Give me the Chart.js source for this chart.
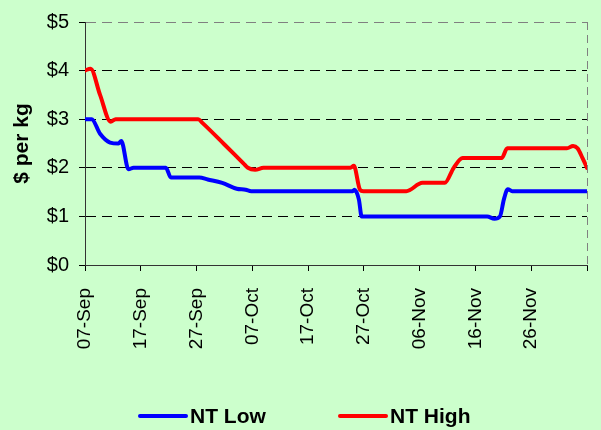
<!DOCTYPE html>
<html>
<head>
<meta charset="utf-8">
<script src="https://cdn.jsdelivr.net/npm/chart.js@4"></script>
<style>
    body { margin: 0; background: #CCFFCC; }
    canvas { display: block; }
</style>
</head>
<body>
<canvas id="priceChart" width="601" height="430"></canvas>
<script>
// days counted from 07-Sep
const xTickLabels = ["07-Sep", "17-Sep", "27-Sep", "07-Oct", "17-Oct", "27-Oct", "06-Nov", "16-Nov", "26-Nov", ""];

const lowDays   = [0, 1.2, 2.7, 4.5, 6.0, 6.5, 7.8, 8.7, 14.5, 15.4, 20.5, 22, 24.6, 27.2, 28.8, 29.8, 48.0, 48.3, 49.1, 49.6, 50.2, 72.1, 73.4, 74.4, 75.1, 75.8, 76.6, 90];
const lowValues = [3.0, 3.0, 2.7, 2.52, 2.5, 2.55, 1.97, 2.0, 2.0, 1.8, 1.8, 1.76, 1.69, 1.57, 1.55, 1.52, 1.52, 1.55, 1.35, 1.0, 1.0, 1.0, 0.95, 1.0, 1.35, 1.56, 1.52, 1.52];

const highDays   = [0, 1, 2.7, 4.6, 5.5, 20.3, 21.0, 25.0, 28.4, 29.2, 30.5, 32, 47.6, 48.2, 49.3, 49.9, 57.6, 60.5, 64.5, 66.1, 67.7, 74.7, 75.7, 86.4, 87.5, 88.3, 89.2, 90];
const highValues = [4.0, 4.04, 3.5, 2.95, 3.0, 3.0, 2.93, 2.48, 2.09, 2.0, 1.96, 2.0, 2.0, 2.04, 1.55, 1.52, 1.52, 1.69, 1.69, 2.0, 2.2, 2.2, 2.4, 2.4, 2.45, 2.4, 2.2, 2.0];

const yTicks = [0, 1, 2, 3, 4, 5];

const FONT = '"Liberation Sans", Arial, sans-serif';
Chart.defaults.font.family = FONT;
Chart.defaults.color = "#000";

function toPoints(days, values) {
    return days.map((d, i) => ({ x: d, y: values[i] }));
}

// legend drawn under the axis, like the original
const bottomLegend = {
    id: "bottomLegend",
    afterDraw(chart) {
        let ctx = chart.ctx;
        let starts = [140, 340];
        chart.data.datasets.forEach((ds, i) => {
            let x = starts[i];
            ctx.save();
            ctx.strokeStyle = ds.borderColor;
            ctx.lineWidth = 4;
            ctx.lineCap = "round";
            ctx.beginPath();
            ctx.moveTo(x, 416);
            ctx.lineTo(x + 46, 416);
            ctx.stroke();
            ctx.fillStyle = "#000";
            ctx.font = "bold 21px " + FONT;
            ctx.textBaseline = "alphabetic";
            ctx.fillText(ds.label, x + 50, 423);
            ctx.restore();
        });
    }
};

new Chart(document.getElementById("priceChart"), {
    type: "line",
    data: {
        datasets: [
            {
                label: "NT Low",
                data: toPoints(lowDays, lowValues),
                borderColor: "#0000FF",
                backgroundColor: "#0000FF"
            },
            {
                label: "NT High",
                data: toPoints(highDays, highValues),
                borderColor: "#FF0000",
                backgroundColor: "#FF0000"
            }
        ]
    },
    options: {
        responsive: false,
        animation: false,
        layout: { padding: { top: 20, right: 14, bottom: 60, left: 0 } },
        elements: {
            line: { borderWidth: 4, cubicInterpolationMode: "monotone", borderCapStyle: "round", borderJoinStyle: "round" },
            point: { radius: 0 }
        },
        plugins: {
            legend: { display: false },
            tooltip: { enabled: false }
        },
        scales: {
            x: {
                type: "linear",
                min: 0,
                max: 90,
                afterFit: s => {
                    s.height = 105;
                    s.paddingLeft = 0;
                    s.paddingRight = 0;
                },
                ticks: {
                    stepSize: 10,
                    autoSkip: false,
                    minRotation: 90,
                    maxRotation: 90,
                    padding: 17,
                    font: { size: 19 },
                    callback: (v, i) => xTickLabels[i]
                },
                grid: {
                    color: c => (c.tick && c.tick.value === 90 ? "#808080" : "transparent"),
                    tickColor: "#000",
                    tickLength: 6,
                    lineWidth: 1
                },
                border: { color: "#333", width: 1, dash: [8, 5] }
            },
            y: {
                min: 0,
                max: 5,
                afterFit: s => { s.width = 85; },
                afterBuildTicks: s => { s.ticks = yTicks.map(v => ({ value: v })); },
                ticks: {
                    padding: 10,
                    font: { size: 20 },
                    callback: v => "$" + v
                },
                grid: {
                    color: c => (c.tick && c.tick.value === 5 ? "#808080" : "#000"),
                    tickColor: "#000",
                    tickLength: 6,
                    lineWidth: 1
                },
                border: { color: "#333", width: 1, dash: [10, 6] },
                title: {
                    display: true,
                    text: "$ per kg",
                    font: { size: 21, weight: "bold" },
                    padding: { top: 10, bottom: 0 }
                }
            }
        }
    },
    plugins: [bottomLegend]
});
</script>
</body>
</html>
